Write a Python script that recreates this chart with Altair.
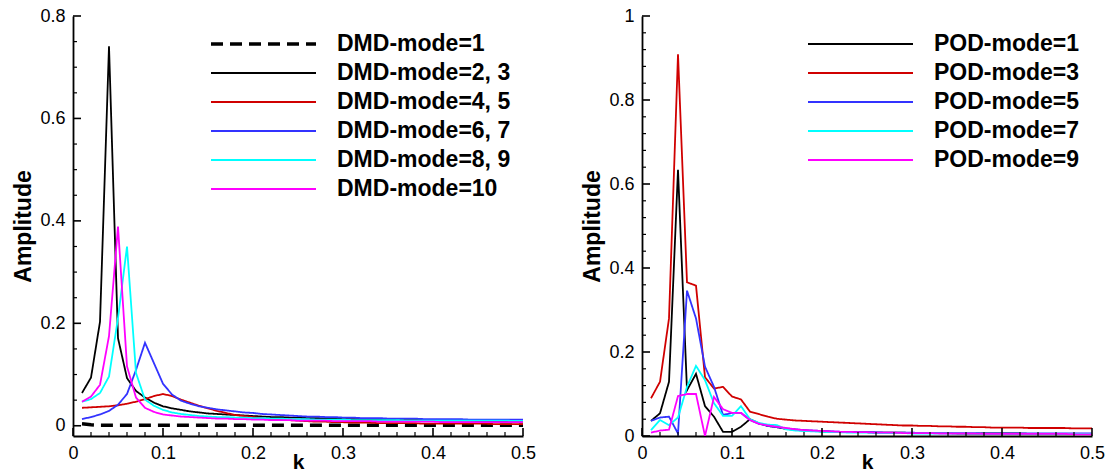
import altair as alt
import pandas as pd

FONT = "Liberation Sans"

K = [0.01, 0.02, 0.03, 0.04, 0.05, 0.06, 0.07, 0.08, 0.09, 0.10,
     0.11, 0.12, 0.13, 0.14, 0.15, 0.16, 0.17, 0.18, 0.19, 0.20,
     0.21, 0.22, 0.23, 0.24, 0.25, 0.26, 0.27, 0.28, 0.29, 0.30,
     0.31, 0.32, 0.33, 0.34, 0.35, 0.36, 0.37, 0.38, 0.39, 0.40,
     0.41, 0.42, 0.43, 0.44, 0.45, 0.46, 0.47, 0.48, 0.49, 0.50]

# ---- DMD panel ----
DMD_NAMES = ["DMD-mode=1", "DMD-mode=2, 3", "DMD-mode=4, 5",
             "DMD-mode=6, 7", "DMD-mode=8, 9", "DMD-mode=10"]
DMD_1 = [0.004, 0.002, 0.001, 0.001, 0.001, 0.001, 0.001, 0.001, 0.001, 0.001,
         0.001, 0.001, 0.001, 0.001, 0.001, 0.001, 0.001, 0.001, 0.001, 0.001,
         0.001, 0.001, 0.001, 0.001, 0.001, 0.001, 0.001, 0.001, 0.001, 0.001,
         0.001, 0.001, 0.001, 0.001, 0.001, 0.001, 0.001, 0.001, 0.001, 0.001,
         0.001, 0.001, 0.001, 0.001, 0.001, 0.001, 0.001, 0.001, 0.001, 0.001]
DMD_23 = [0.064, 0.094, 0.203, 0.741, 0.171, 0.093, 0.068, 0.055, 0.045, 0.038,
          0.034, 0.031, 0.028, 0.026, 0.024, 0.023, 0.022, 0.021, 0.020, 0.019,
          0.018, 0.017, 0.017, 0.016, 0.016, 0.015, 0.015, 0.014, 0.014, 0.013,
          0.013, 0.013, 0.012, 0.012, 0.012, 0.011, 0.011, 0.011, 0.011, 0.010,
          0.010, 0.010, 0.010, 0.010, 0.009, 0.009, 0.009, 0.009, 0.009, 0.008]
DMD_45 = [0.035, 0.036, 0.037, 0.038, 0.040, 0.043, 0.047, 0.052, 0.058, 0.062,
          0.058, 0.051, 0.045, 0.039, 0.034, 0.029, 0.025, 0.021, 0.019, 0.017,
          0.015, 0.013, 0.012, 0.011, 0.010, 0.009, 0.008, 0.008, 0.007, 0.007,
          0.006, 0.006, 0.006, 0.005, 0.005, 0.005, 0.005, 0.005, 0.004, 0.004,
          0.004, 0.004, 0.004, 0.004, 0.004, 0.004, 0.003, 0.003, 0.003, 0.003]
DMD_67 = [0.013, 0.017, 0.022, 0.029, 0.041, 0.062, 0.109, 0.162, 0.122, 0.082,
          0.061, 0.049, 0.043, 0.038, 0.035, 0.032, 0.030, 0.028, 0.026, 0.025,
          0.023, 0.022, 0.021, 0.020, 0.019, 0.018, 0.018, 0.017, 0.017, 0.016,
          0.016, 0.015, 0.015, 0.015, 0.014, 0.014, 0.014, 0.014, 0.013, 0.013,
          0.013, 0.013, 0.013, 0.012, 0.012, 0.012, 0.012, 0.012, 0.012, 0.012]
DMD_89 = [0.047, 0.052, 0.064, 0.096, 0.210, 0.350, 0.103, 0.051, 0.039, 0.031,
          0.026, 0.023, 0.021, 0.019, 0.018, 0.017, 0.017, 0.016, 0.016, 0.015,
          0.015, 0.014, 0.014, 0.013, 0.013, 0.013, 0.012, 0.012, 0.012, 0.012,
          0.011, 0.011, 0.011, 0.011, 0.011, 0.011, 0.010, 0.010, 0.010, 0.010,
          0.010, 0.010, 0.010, 0.010, 0.010, 0.010, 0.010, 0.010, 0.0095, 0.0095]
DMD_10 = [0.047, 0.057, 0.080, 0.175, 0.389, 0.116, 0.055, 0.035, 0.027, 0.022,
          0.020, 0.018, 0.017, 0.016, 0.015, 0.014, 0.014, 0.013, 0.013, 0.012,
          0.012, 0.011, 0.011, 0.011, 0.010, 0.010, 0.010, 0.010, 0.009, 0.009,
          0.009, 0.009, 0.009, 0.008, 0.008, 0.008, 0.008, 0.008, 0.008, 0.008,
          0.007, 0.007, 0.007, 0.007, 0.007, 0.007, 0.007, 0.007, 0.007, 0.007]

# ---- POD panel ----
POD_NAMES = ["POD-mode=1", "POD-mode=3", "POD-mode=5", "POD-mode=7", "POD-mode=9"]
POD_1 = [0.036, 0.054, 0.129, 0.634, 0.109, 0.148, 0.071, 0.046, 0.010, 0.010,
         0.022, 0.040, 0.030, 0.024, 0.021, 0.017, 0.015, 0.013, 0.012, 0.011,
         0.010, 0.010, 0.009, 0.009, 0.009, 0.008, 0.008, 0.008, 0.008, 0.007,
         0.007, 0.007, 0.007, 0.007, 0.006, 0.006, 0.006, 0.006, 0.006, 0.006,
         0.006, 0.006, 0.005, 0.005, 0.005, 0.005, 0.005, 0.005, 0.005, 0.005]
POD_3 = [0.090, 0.129, 0.280, 0.909, 0.366, 0.358, 0.140, 0.113, 0.117, 0.094,
         0.087, 0.058, 0.052, 0.046, 0.041, 0.039, 0.037, 0.036, 0.035, 0.034,
         0.033, 0.032, 0.031, 0.030, 0.029, 0.028, 0.027, 0.026, 0.025, 0.025,
         0.024, 0.024, 0.023, 0.023, 0.022, 0.022, 0.021, 0.021, 0.020, 0.020,
         0.020, 0.020, 0.019, 0.019, 0.019, 0.019, 0.019, 0.018, 0.018, 0.018]
POD_5 = [0.036, 0.044, 0.046, 0.006, 0.346, 0.280, 0.165, 0.117, 0.050, 0.055,
         0.055, 0.038, 0.029, 0.024, 0.021, 0.018, 0.016, 0.014, 0.013, 0.012,
         0.011, 0.010, 0.010, 0.009, 0.009, 0.009, 0.008, 0.008, 0.008, 0.008,
         0.007, 0.007, 0.007, 0.007, 0.007, 0.007, 0.007, 0.006, 0.006, 0.006,
         0.006, 0.006, 0.006, 0.006, 0.006, 0.006, 0.006, 0.006, 0.006, 0.006]
POD_7 = [0.014, 0.038, 0.026, 0.044, 0.117, 0.167, 0.133, 0.078, 0.048, 0.048,
         0.071, 0.040, 0.031, 0.027, 0.026, 0.016, 0.013, 0.012, 0.011, 0.010,
         0.009, 0.009, 0.008, 0.008, 0.008, 0.007, 0.007, 0.007, 0.007, 0.006,
         0.006, 0.006, 0.006, 0.006, 0.006, 0.006, 0.006, 0.005, 0.005, 0.005,
         0.005, 0.005, 0.005, 0.005, 0.005, 0.005, 0.005, 0.005, 0.005, 0.005]
POD_9 = [0.008, 0.013, 0.015, 0.095, 0.100, 0.100, 0.000, 0.093, 0.064, 0.055,
         0.055, 0.038, 0.029, 0.025, 0.022, 0.019, 0.016, 0.014, 0.013, 0.012,
         0.011, 0.010, 0.010, 0.009, 0.009, 0.008, 0.008, 0.008, 0.007, 0.007,
         0.007, 0.007, 0.006, 0.006, 0.006, 0.006, 0.006, 0.005, 0.005, 0.005,
         0.005, 0.005, 0.005, 0.005, 0.005, 0.005, 0.005, 0.004, 0.004, 0.004]

# ---- axes ticks / labels ----
X_MAJOR = [0, 0.1, 0.2, 0.3, 0.4, 0.5]
X_MINOR = [0.02, 0.04, 0.06, 0.08, 0.12, 0.14, 0.16, 0.18, 0.22, 0.24, 0.26, 0.28,
           0.32, 0.34, 0.36, 0.38, 0.42, 0.44, 0.46, 0.48]
L_Y_MAJOR = [0, 0.2, 0.4, 0.6, 0.8]
L_Y_MINOR = [0.05, 0.1, 0.15, 0.25, 0.3, 0.35, 0.45, 0.5, 0.55, 0.65, 0.7, 0.75]
R_Y_MAJOR = [0, 0.2, 0.4, 0.6, 0.8, 1.0]
R_Y_MINOR = [0.04, 0.08, 0.12, 0.16, 0.24, 0.28, 0.32, 0.36, 0.44, 0.48, 0.52, 0.56,
             0.64, 0.68, 0.72, 0.76, 0.84, 0.88, 0.92, 0.96]

W, H = 450, 420
LEG_FS = 23
LW = 1.8


def panel(names, series, colors, dashes, widths, ydomain, ymajor, yminor, legend_x):
    rows = []
    for name, vals in zip(names, series):
        for k, v in zip(K, vals):
            rows.append({"series": name, "k": k, "amp": v})
    df = pd.DataFrame(rows)

    xscale = alt.Scale(domain=[0, 0.5], nice=False, zero=False)
    yscale = alt.Scale(domain=ydomain, nice=False, zero=False)

    legend = alt.Legend(
        title=None, orient="none", legendX=legend_x, legendY=16.5,
        symbolType="M-2.3,0H18.7", symbolSize=100, labelOffset=103,
        labelFont=FONT, labelFontSize=LEG_FS, labelFontWeight="bold",
        labelColor="black", rowPadding=28 - LEG_FS, padding=0, labelLimit=400,
    )

    xaxis = alt.Axis(values=X_MAJOR, format="~g", title="k", ticks=False, tickSize=0,
                     grid=False, domainColor="black", domainWidth=1.8,
                     labelFont=FONT, labelFontSize=18, labelColor="black",
                     labelPadding=8, labelFlush=False, labelOverlap=False,
                     titleFont=FONT, titleFontSize=21, titleFontWeight="bold",
                     titleColor="black", titleBaseline="alphabetic", titleY=32,
                     titleX=W / 2)
    yaxis = alt.Axis(values=ymajor, format="~g", title="Amplitude", ticks=False, tickSize=0,
                     grid=False, domainColor="black", domainWidth=1.8,
                     labelFont=FONT, labelFontSize=18, labelColor="black",
                     labelPadding=8, labelFlush=False, labelOverlap=False,
                     titleFont=FONT, titleFontSize=23, titleFontWeight="bold",
                     titleColor="black", titleBaseline="alphabetic",
                     titleX=-42.5, titleY=H / 2)

    lines = alt.Chart(df).mark_line(clip=True).encode(
        x=alt.X("k:Q", scale=xscale, axis=xaxis),
        y=alt.Y("amp:Q", scale=yscale, axis=yaxis),
        color=alt.Color("series:N", scale=alt.Scale(domain=names, range=colors), legend=legend),
        strokeDash=alt.StrokeDash("series:N", scale=alt.Scale(domain=names, range=dashes), legend=legend),
        strokeWidth=alt.StrokeWidth("series:N", scale=alt.Scale(type="ordinal", domain=names, range=widths), legend=legend),
        order=alt.Order("k:Q"),
    )

    ymaj = alt.Chart(pd.DataFrame({"v": ymajor})).mark_rule(color="black", strokeWidth=1.6).encode(
        y=alt.Y("v:Q", scale=yscale, axis=yaxis), x=alt.value(0), x2=alt.value(8))
    ymin = alt.Chart(pd.DataFrame({"v": yminor})).mark_rule(color="black", strokeWidth=1.2).encode(
        y=alt.Y("v:Q", scale=yscale, axis=yaxis), x=alt.value(0), x2=alt.value(4))
    xmaj = alt.Chart(pd.DataFrame({"v": X_MAJOR})).mark_rule(color="black", strokeWidth=1.6).encode(
        x=alt.X("v:Q", scale=xscale, axis=xaxis), y=alt.value(H), y2=alt.value(H - 8))
    xmin = alt.Chart(pd.DataFrame({"v": X_MINOR})).mark_rule(color="black", strokeWidth=1.2).encode(
        x=alt.X("v:Q", scale=xscale, axis=xaxis), y=alt.value(H), y2=alt.value(H - 4))

    return alt.layer(lines, ymaj, ymin, xmaj, xmin).properties(width=W, height=H)


left = panel(DMD_NAMES, [DMD_1, DMD_23, DMD_45, DMD_67, DMD_89, DMD_10],
             ["#000000", "#000000", "#d00000", "#3333ff", "#00ffff", "#ff00ff"],
             [[12, 7], [1, 0], [1, 0], [1, 0], [1, 0], [1, 0]],
             [3.5, LW, LW, LW, LW, LW],
             [-0.02, 0.8], L_Y_MAJOR, L_Y_MINOR, 138)

right = panel(POD_NAMES, [POD_1, POD_3, POD_5, POD_7, POD_9],
              ["#000000", "#d00000", "#3333ff", "#00ffff", "#ff00ff"],
              [[1, 0], [1, 0], [1, 0], [1, 0], [1, 0]],
              [LW, LW, LW, LW, LW],
              [0, 1], R_Y_MAJOR, R_Y_MINOR, 166)

chart = alt.hconcat(left, right, spacing=119, bounds="flush").resolve_scale(
    x="independent", y="independent", color="independent",
    strokeDash="independent", strokeWidth="independent",
).resolve_legend(
    color="independent", strokeDash="independent", strokeWidth="independent",
).properties(
    padding={"left": 12, "top": 7, "right": 0, "bottom": 0},
    background="white",
).configure_view(stroke=None)

chart.save("out.html", embed_options={"renderer": "svg", "actions": False})
